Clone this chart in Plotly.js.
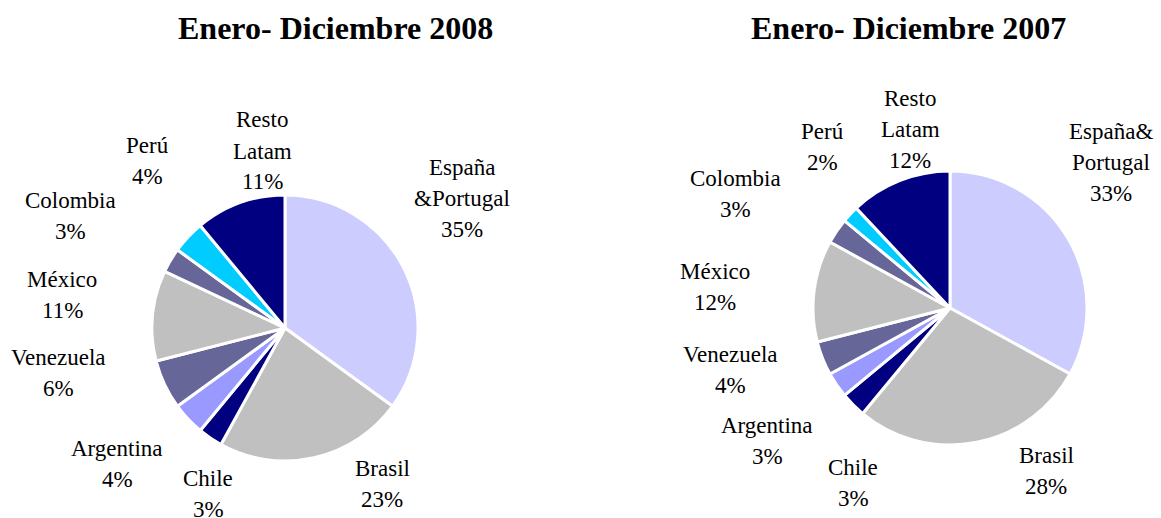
<!DOCTYPE html>
<html>
<head>
<meta charset="utf-8">
<script src="https://cdn.plot.ly/plotly-3.0.1.min.js"></script>
<style>html,body{margin:0;padding:0;background:#fff;}#chart{width:1161px;height:518px;}</style>
</head>
<body>
<div id="chart"></div>
<script>
// ---- data ----
const categories = ['España&Portugal','Brasil','Chile','Argentina','Venezuela','México','Colombia','Perú','Resto Latam'];
const labels2008 = ['España<br>&Portugal','Brasil','Chile','Argentina','Venezuela','México','Colombia','Perú','Resto<br>Latam'];
const labels2007 = ['España&<br>Portugal','Brasil','Chile','Argentina','Venezuela','México','Colombia','Perú','Resto<br>Latam'];
const values2008 = [35, 23, 3, 4, 6, 11, 3, 4, 11];
const values2007 = [33, 28, 3, 3, 4, 12, 3, 2, 12];
const titles = ['Enero- Diciembre 2008', 'Enero- Diciembre 2007'];
const colors = ['#ccccff','#c0c0c0','#000080','#9999ff','#666699','#c0c0c0','#666699','#00ccff','#000080'];

// ---- layout (pixel geometry of each pie and its hand-placed data labels) ----
const W = 1161, H = 518;
const FONT = '"Liberation Serif", "Times New Roman", Times, serif';
const pieLayouts = [
  {cx: 285, cy: 328, r: 133, tx: 335,
   labelOffsets: [[177,-130],[97,156],[-77,166],[-168,136],[-227,45],[-223,-33],[-215,-112],[-138,-167],[-23,-177]]},
  {cx: 950, cy: 308, r: 137, tx: 908,
   labelOffsets: [[161,-146],[96,163],[-97,175],[-183,133],[-220,62],[-235,-21],[-215,-114],[-128,-161],[-40,-179]]}
];
const pieData = [
  {values: values2008, labels: labels2008},
  {values: values2007, labels: labels2007}
];

const traces = [];
const annotations = [];
pieData.forEach((d, k) => {
  const p = pieLayouts[k];
  traces.push({
    type: 'pie',
    values: d.values,
    labels: categories,
    sort: false,
    direction: 'clockwise',
    rotation: 0,
    textinfo: 'none',
    hoverinfo: 'label+percent',
    marker: {colors: colors, line: {color: '#ffffff', width: 3}},
    domain: {
      x: [(p.cx - p.r) / W, (p.cx + p.r) / W],
      y: [1 - (p.cy + p.r) / H, 1 - (p.cy - p.r) / H]
    },
    showlegend: false
  });
  annotations.push({
    text: '<b>' + titles[k] + '</b>', xref: 'paper', yref: 'paper',
    x: p.tx / W, y: 1 - 28 / H, xanchor: 'center', yanchor: 'middle',
    showarrow: false, font: {family: FONT, size: 32, color: '#000'}
  });
  const total = d.values.reduce((a, b) => a + b, 0);
  d.values.forEach((v, i) => {
    const [ox, oy] = p.labelOffsets[i];
    const lx = p.cx + ox, ly = p.cy + oy;
    const lines = d.labels[i].split('<br>').concat([Math.round(v / total * 100) + '%']);
    const spacing = 31;
    lines.forEach((ln, j) => {
      const yy = ly + (j - (lines.length - 1) / 2) * spacing;
      annotations.push({
        text: ln, xref: 'paper', yref: 'paper',
        x: lx / W, y: 1 - yy / H, xanchor: 'center', yanchor: 'middle',
        showarrow: false, font: {family: FONT, size: 23, color: '#000'}
      });
    });
  });
});

Plotly.newPlot('chart', traces, {
  width: W, height: H,
  margin: {l: 0, r: 0, t: 0, b: 0},
  paper_bgcolor: '#ffffff',
  plot_bgcolor: '#ffffff',
  annotations: annotations
}, {staticPlot: true});
</script>
</body>
</html>
